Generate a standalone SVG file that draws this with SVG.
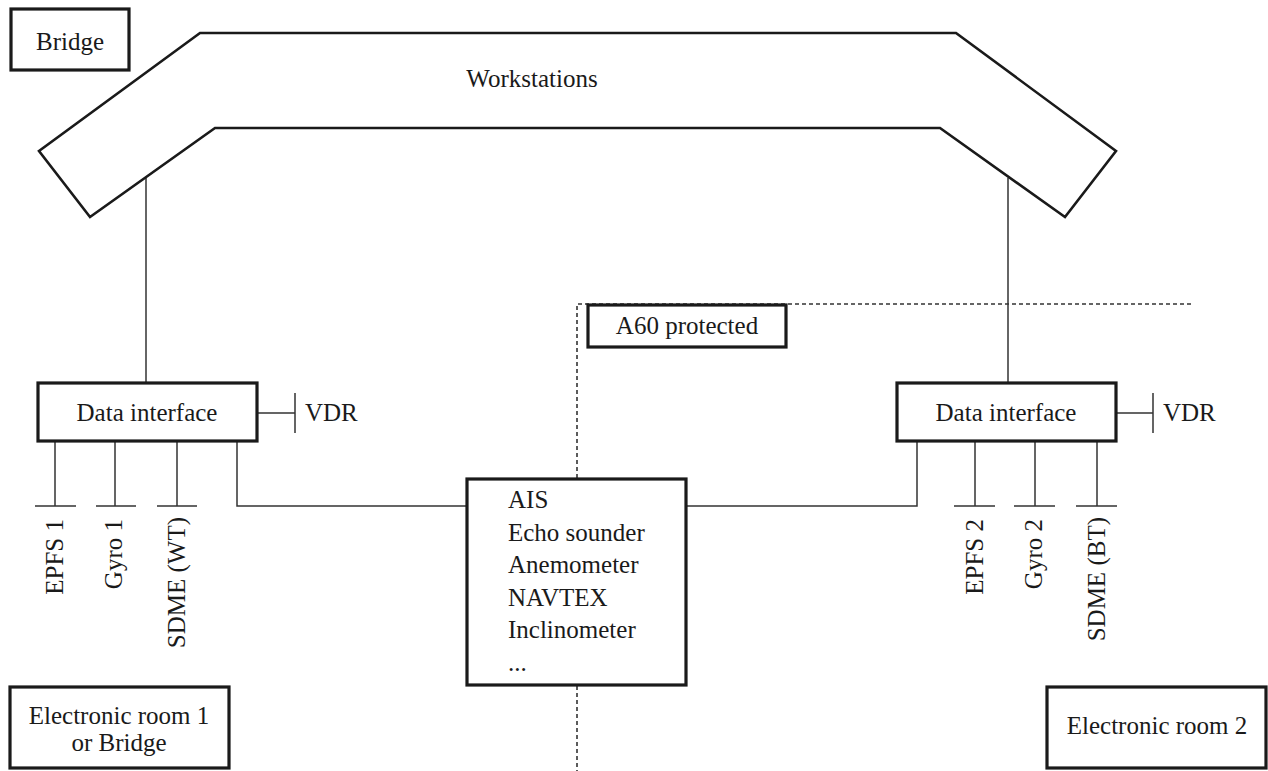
<svg xmlns="http://www.w3.org/2000/svg" width="1268" height="771" viewBox="0 0 1268 771">
<style>
text{font-family:"Liberation Serif","Times New Roman",serif;font-size:25px;fill:#1a1a1a}
.box{fill:#fff;stroke:#1a1a1a;stroke-width:3.2}
.ws{fill:#fff;stroke:#1a1a1a;stroke-width:2.6;stroke-linejoin:miter}
.ln{fill:none;stroke:#333;stroke-width:1.5}
.dash{fill:none;stroke:#333;stroke-width:1.6;stroke-dasharray:4 3}
.c{text-anchor:middle}
.e{text-anchor:end}
</style>
<rect width="1268" height="771" fill="#fff"/>
<g id="boundary">
<path class="dash" d="M577,478 V304 H1192"/>
<path class="dash" d="M577,686 V771"/>
</g>
<g id="connectors">
<line class="ln" x1="146" y1="178" x2="146" y2="383"/>
<line class="ln" x1="1008" y1="178" x2="1008" y2="383"/>
<path class="ln" d="M257,413 H295 M295,393 V433"/>
<path class="ln" d="M1116,413 H1153 M1153,393 V433"/>
<path class="ln" d="M55,441 V506 M35,506 H76"/>
<path class="ln" d="M115,441 V506 M96,506 H136"/>
<path class="ln" d="M177,441 V506 M157,506 H197"/>
<path class="ln" d="M237,441 V506 H467"/>
<path class="ln" d="M686,506 H917 V441"/>
<path class="ln" d="M975,441 V506 M954,506 H995"/>
<path class="ln" d="M1035,441 V506 M1014,506 H1055"/>
<path class="ln" d="M1097,441 V506 M1076,506 H1117"/>
</g>
<g id="bridge">
<rect class="box" x="11" y="9" width="118" height="61"/>
<text class="c" x="70" y="50">Bridge</text>
</g>
<g id="workstations">
<polygon class="ws" points="200,33 956,33 1116,151 1065,217 940,128 215,128 90,217 39,151"/>
<text class="c" x="532" y="87">Workstations</text>
</g>
<g id="data-interface-1">
<rect class="box" x="38" y="383" width="219" height="58"/>
<text class="c" x="147" y="421">Data interface</text>
</g>
<text x="305" y="421">VDR</text>
<g id="data-interface-2">
<rect class="box" x="897" y="383" width="219" height="58"/>
<text class="c" x="1006" y="421">Data interface</text>
</g>
<text x="1163" y="421">VDR</text>
<g id="sensors-1">
<text class="e" transform="translate(63,519) rotate(-90)">EPFS 1</text>
<text class="e" transform="translate(122,519) rotate(-90)">Gyro 1</text>
<text class="e" transform="translate(185,517) rotate(-90)">SDME (WT)</text>
</g>
<g id="sensors-2">
<text class="e" transform="translate(983,519) rotate(-90)">EPFS 2</text>
<text class="e" transform="translate(1042,519) rotate(-90)">Gyro 2</text>
<text class="e" transform="translate(1105,517) rotate(-90)">SDME (BT)</text>
</g>
<g id="a60">
<rect class="box" x="588" y="305" width="198" height="42"/>
<text class="c" x="687" y="334">A60 protected</text>
</g>
<g id="sensors-common">
<rect class="box" x="467" y="479" width="219" height="206"/>
<text x="508" y="508">AIS</text>
<text x="508" y="541">Echo sounder</text>
<text x="508" y="573">Anemometer</text>
<text x="508" y="606">NAVTEX</text>
<text x="508" y="638">Inclinometer</text>
<text x="508" y="671">...</text>
</g>
<g id="room1">
<rect class="box" x="10" y="687" width="219" height="81"/>
<text class="c" x="119" y="724">Electronic room 1</text>
<text class="c" x="119" y="751">or Bridge</text>
</g>
<g id="room2">
<rect class="box" x="1047" y="687" width="219" height="81"/>
<text class="c" x="1157" y="734">Electronic room 2</text>
</g>
</svg>
